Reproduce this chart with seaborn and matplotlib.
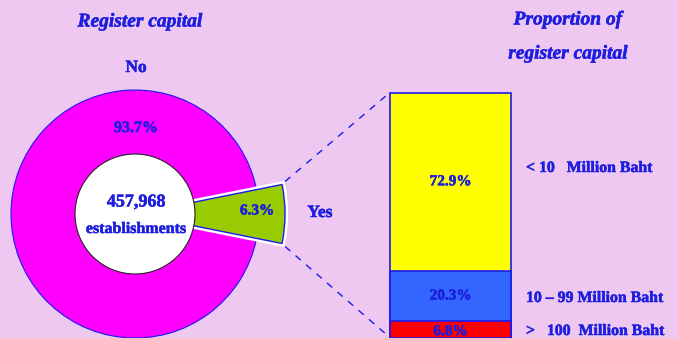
import numpy as np
import pandas as pd
import matplotlib
matplotlib.use("Agg")
import matplotlib.pyplot as plt
import matplotlib.patheffects as pe
import seaborn as sns

# ---- data ----
pie_labels = ["Yes", "No"]
pie_shares = [6.3, 93.7]
total_establishments = "457,968"

bar_labels = ["< 10   Million Baht", "10 \u2013 99 Million Baht", ">   100  Million Baht"]
bar_shares = [72.9, 20.3, 6.8]

# ---- style ----
BG = "#EEC8F0"
TXT = "#1E1EE0"
EDGE = "#1A1AF0"
pie_colors = {"Yes": "#99CC00", "No": "#FF00FF"}
bar_colors = ["#FFFF00", "#3366FF", "#FF0000"]

sns.set_theme(style="white")
plt.rcParams["font.family"] = ["Liberation Serif", "DejaVu Serif"]

W, H = 678, 338
fig = plt.figure(figsize=(W / 100, H / 100), dpi=100, facecolor=BG)

# full-figure axes in pixel-like units (y measured upward)
ax = fig.add_axes([0, 0, 1, 1])
ax.set_facecolor(BG)

cx, cy = 135, 124
r_out, r_yes, r_in = 124, 150, 60
start = -pie_shares[0] * 3.6 / 2

# outer ring: "No" share
ax.pie(pie_shares, colors=["none", pie_colors["No"]], radius=r_out, center=(cx, cy),
       startangle=start, counterclock=True,
       wedgeprops=dict(edgecolor=EDGE, linewidth=0.8))
# highlighted "Yes" slice, drawn longer with a white halo
halo, _ = ax.pie(pie_shares, colors=[pie_colors["Yes"], "none"], radius=r_yes, center=(cx, cy),
                 startangle=start, wedgeprops=dict(edgecolor="white", linewidth=4.5))
halo[1].set_edgecolor("none")
wedges, _ = ax.pie(pie_shares, colors=[pie_colors["Yes"], "none"], radius=r_yes,
                   center=(cx, cy), startangle=start,
                   wedgeprops=dict(edgecolor=EDGE, linewidth=1.0))
wedges[1].set_edgecolor("none")
# inner white disc
ax.pie([1], colors=["white"], radius=r_in, center=(cx, cy),
       wedgeprops=dict(edgecolor="#222222", linewidth=0.8))

ax.set_xlim(0, W)
ax.set_ylim(0, H)
ax.set_aspect("auto")
ax.axis("off")

# connector lines from the "Yes" slice to the bar
half = np.deg2rad(pie_shares[0] * 3.6 / 2)
tip_x = cx + r_yes * np.cos(half)
tip_top = cy + r_yes * np.sin(half)
tip_bot = cy - r_yes * np.sin(half)
bar_left, bar_right = 390, 511
bar_top_y = H - 93
ax.plot([tip_x + 3, bar_left - 3], [tip_top + 3, bar_top_y - 2], ls=(0, (5, 5)), color=EDGE, lw=1)
ax.plot([tip_x + 3, bar_left - 3], [tip_bot - 3, 3], ls=(0, (5, 5)), color=EDGE, lw=1)

# slightly heavier text strokes
thick = [pe.withStroke(linewidth=0.35, foreground=TXT)]

# pie texts
bold = dict(color=TXT, fontweight="bold", ha="center", va="center", path_effects=thick)
ax.text(140, H - 22, "Register capital", fontsize=14, style="italic", **bold)
ax.text(136, H - 68, "No", fontsize=12.5, **bold)
ax.text(136, H - 128, f"{pie_shares[1]}%", fontsize=11.5, **bold)
ax.text(136, H - 202, total_establishments, fontsize=13, **bold)
ax.text(136, H - 229, "establishments", fontsize=11.5, **bold)
ax.text(257, H - 211, f"{pie_shares[0]}%", fontsize=11, **bold)
ax.text(320, H - 213, pie_labels[0], fontsize=12.5, **bold)

ax.text(568, H - 20, "Proportion of", fontsize=14, style="italic", **bold)
ax.text(568, H - 54, "register capital", fontsize=14, style="italic", **bold)

# stacked bar of capital bands (drawn as overlapping cumulative bars)
pad = 2
bx = fig.add_axes([(bar_left - pad) / W, 0.5 / H, (bar_right - bar_left + 2 * pad) / W,
                   (H - 93 + pad) / H])
cum = np.cumsum(bar_shares[::-1])[::-1]  # [100, 27.1, 6.8]
df = pd.DataFrame({"band": bar_labels, "cum": cum})
for i in range(len(bar_labels)):
    sns.barplot(data=df.iloc[[i]], x=np.zeros(1), y="cum", color=bar_colors[i],
                width=1.0, edgecolor=EDGE, linewidth=1.2, saturation=1, ax=bx)
span = pad / (bar_right - bar_left)
bx.set_xlim(-0.5 - span, 0.5 + span)
bx.set_ylim(0, 100 * (H - 93 + pad) / (H - 93))
bx.axis("off")

# bar labels
for i, (lab, share) in enumerate(zip(bar_labels, bar_shares)):
    lo = cum[i] - share
    ypos = lo + share / 2 if i < 2 else lo + share * 0.35
    bx.text(0, ypos, f"{share}%", fontsize=11, **bold)

side = dict(fontsize=11.4, color=TXT, fontweight="bold", ha="left", va="center", path_effects=thick)
ax.text(526, H - 168, bar_labels[0], **side)
ax.text(526, H - 298, bar_labels[1], **side)
ax.text(526, H - 331, bar_labels[2], **side)

fig.savefig("out.png", dpi=100, facecolor=BG)
